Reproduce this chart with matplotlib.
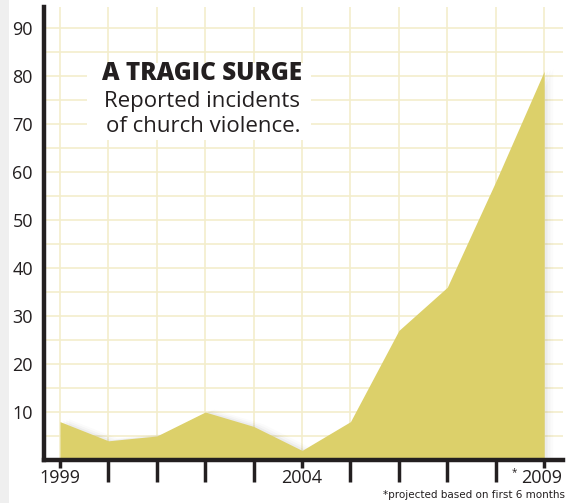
import matplotlib
matplotlib.use("Agg")
import matplotlib.pyplot as plt
from matplotlib.patches import Rectangle

years = list(range(1999, 2010))
incidents = [8, 4, 5, 10, 7, 2, 8, 27, 36, 58, 81]
year_labels = {1999: "1999", 2004: "2004", 2009: "2009"}
y_ticks = [10, 20, 30, 40, 50, 60, 70, 80, 90]

FILL = "#dcd06a"
GRID = "#f3edcc"
INK = "#231f20"

plt.rcParams["font.family"] = ["Open Sans", "DejaVu Sans"]

fig = plt.figure(figsize=(5.75, 5.03), dpi=100)
fig.patch.set_facecolor("white")
# page shading on the far left
fig.patches.append(Rectangle((0, 0), 9 / 575, 1, transform=fig.transFigure,
                             facecolor="#efefef", edgecolor="none"))

W, H = 575, 503
ax = fig.add_axes([44 / W, (H - 460) / H, (563 - 44) / W, (460 - 7) / H])
ax.set_xlim(1998.67, 2009.39)
ax.set_ylim(0, 94.4)

# grid
for yr in years:
    ax.axvline(yr, color=GRID, lw=1.2, zorder=0)
for v in range(5, 95, 5):
    ax.axhline(v, color=GRID, lw=1.2, zorder=0)

# soft shadow then area
for i, a in enumerate([0.035, 0.025, 0.015]):
    off = 0.06 * (i + 1)
    ax.fill_between([y + off for y in years], [v + 0.2 * (i + 1) for v in incidents],
                    0, color="black", alpha=a, lw=0, zorder=1)
ax.fill_between(years, incidents, 0, color=FILL, lw=0, zorder=2)

for s in ["top", "right"]:
    ax.spines[s].set_visible(False)
for s in ["left", "bottom"]:
    ax.spines[s].set_linewidth(3.2)
    ax.spines[s].set_color(INK)
    ax.spines[s].set_zorder(5)

ax.set_yticks(y_ticks)
ax.set_yticklabels([str(v) for v in y_ticks], fontsize=13, color=INK)
ax.tick_params(axis="y", length=0, pad=8)

ax.set_xticks(years)
ax.set_xticklabels([""] * len(years))
ax.tick_params(axis="x", length=0)
for yr in years:
    ln = 8 if yr in year_labels else 22
    ax.plot([yr, yr], [0, -ln / 4.8], color=INK, lw=2.5, clip_on=False,
            solid_capstyle="butt", zorder=5)
for yr, lab in year_labels.items():
    xo = 0 if yr != 2009 else -0.06
    ax.text(yr + xo, -3.8, lab, ha="center", va="center", fontsize=13, color=INK,
            clip_on=False)
ax.text(2008.38, -2.7, "*", ha="center", va="center", fontsize=7, color=INK,
        clip_on=False)

# title block over a white patch that hides the grid
ax.add_patch(Rectangle((1999.56, 66.7), 4.62, 16.0, facecolor="white",
                       edgecolor="none", zorder=3))
ax.text(2004.0, 80.6, "A TRAGIC SURGE", ha="right", va="center", fontsize=17.5,
        fontweight="heavy", color=INK, zorder=6)
ax.text(2003.96, 72.1, "Reported incidents\nof church violence.", ha="right",
        va="center", fontsize=16, linespacing=1.2, color=INK, zorder=6)

fig.text(565 / W, 1 - 495 / H, "*projected based on first 6 months", ha="right",
         va="center", fontsize=7.5, color=INK, family=["Liberation Sans Narrow", "DejaVu Sans"])

fig.savefig("out.png", dpi=100)
